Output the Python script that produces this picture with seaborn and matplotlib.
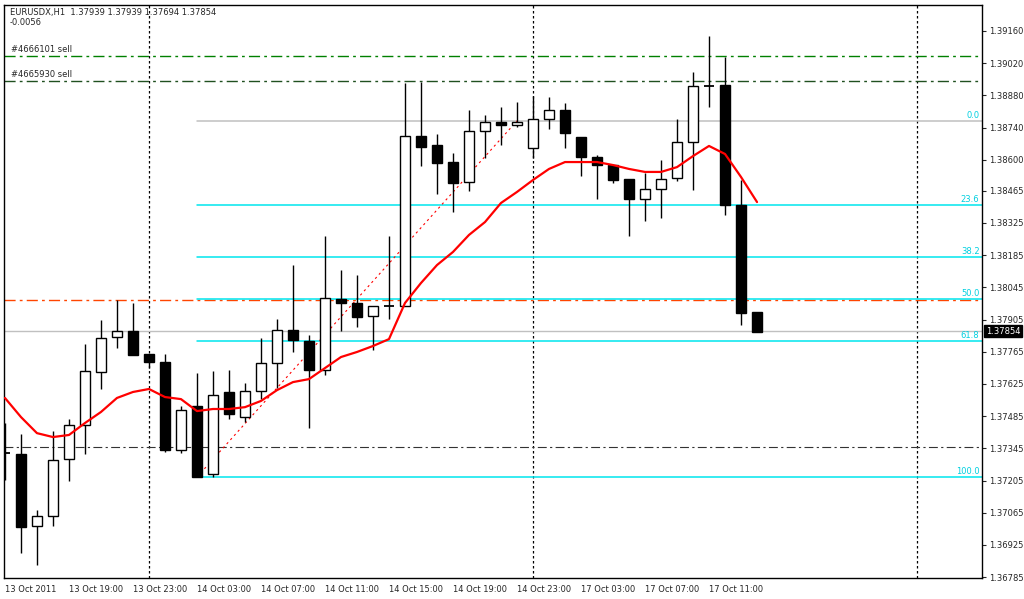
import matplotlib
matplotlib.use("Agg")
import matplotlib.pyplot as plt
import seaborn as sns
import numpy as np
import pandas as pd

opens = [1.37324,1.37320,1.37007,1.37050,1.37298,1.37446,1.37677,1.37829,1.37855,1.37755,
         1.37720,1.37337,1.37529,1.37233,1.37590,1.37481,1.37594,1.37716,1.37859,1.37812,
         1.37685,1.37995,1.37977,1.37920,1.37964,1.37964,1.38703,1.38664,1.38590,1.38503,
         1.38725,1.38764,1.38751,1.38651,1.38777,1.38816,1.38699,1.38612,1.38577,1.38516,
         1.38429,1.38473,1.38521,1.38677,1.38921,1.38925,1.38403,1.37938]
highs = [1.37455,1.37407,1.37076,1.37420,1.37472,1.37798,1.37903,1.37990,1.37977,1.37755,
         1.37755,1.37529,1.37672,1.37681,1.37685,1.37629,1.37825,1.37907,1.38142,1.37838,
         1.38268,1.38120,1.38099,1.37964,1.38268,1.38934,1.38938,1.38712,1.38629,1.38816,
         1.38795,1.38829,1.38851,1.38877,1.38873,1.38847,1.38699,1.38621,1.38577,1.38516,
         1.38542,1.38599,1.38777,1.38982,1.39138,1.39047,1.38512,1.37938]
lows = [1.37207,1.36889,1.36837,1.37007,1.37203,1.37320,1.37603,1.37781,1.37751,1.37694,
        1.37329,1.37324,1.37220,1.37220,1.37472,1.37459,1.37559,1.37607,1.37764,1.37433,
        1.37664,1.37855,1.37872,1.37772,1.37907,1.37964,1.38573,1.38451,1.38373,1.38464,
        1.38608,1.38664,1.38742,1.38608,1.38734,1.38651,1.38529,1.38429,1.38499,1.38268,
        1.38334,1.38347,1.38508,1.38468,1.38829,1.38360,1.37881,1.37851]
closes = [1.37324,1.37002,1.37050,1.37294,1.37446,1.37681,1.37825,1.37855,1.37751,1.37720,
          1.37337,1.37511,1.37220,1.37577,1.37494,1.37594,1.37716,1.37859,1.37816,1.37685,
          1.37999,1.37977,1.37916,1.37964,1.37964,1.38703,1.38655,1.38586,1.38499,1.38725,
          1.38764,1.38751,1.38764,1.38777,1.38816,1.38716,1.38612,1.38577,1.38512,1.38429,
          1.38473,1.38516,1.38677,1.38921,1.38921,1.38403,1.37933,1.37851]
ma = [1.37564,1.37481,1.37411,1.37394,1.37403,1.37455,1.37503,1.37564,1.37590,1.37603,
      1.37568,1.37559,1.37507,1.37516,1.37516,1.37524,1.37551,1.37598,1.37633,1.37646,
      1.37694,1.37742,1.37764,1.37790,1.37820,1.37977,1.38064,1.38142,1.38199,1.38273,
      1.38329,1.38412,1.38460,1.38512,1.38560,1.38590,1.38590,1.38590,1.38577,1.38560,
      1.38547,1.38547,1.38568,1.38616,1.38660,1.38625,1.38525,1.38416]
xlabels = ["13 Oct 2011","13 Oct 19:00","13 Oct 23:00","14 Oct 03:00","14 Oct 07:00",
           "14 Oct 11:00","14 Oct 15:00","14 Oct 19:00","14 Oct 23:00","17 Oct 03:00",
           "17 Oct 07:00","17 Oct 11:00"]
yticks = [1.39160,1.39020,1.38880,1.38740,1.38600,1.38465,1.38325,1.38185,1.38045,
          1.37905,1.37765,1.37625,1.37485,1.37345,1.37205,1.37065,1.36925,1.36785]
fib_high, fib_low = 1.38769, 1.37220
fib_levels = [0.0, 23.6, 38.2, 50.0, 61.8, 100.0]
order_lines = [("#4666101 sell", 1.39051), ("#4665930 sell", 1.38943)]
orange_line = 1.37990
dark_line = 1.37350
bid = 1.37854

sns.set_style("white")
fig = plt.figure(figsize=(10.24, 5.99), dpi=100)
ax = fig.add_axes([4/1024, 1-578/599, 978/1024, 573/599])
n = len(opens)
idx = np.arange(n)

for v in [9, 33, 57]:
    ax.axvline(v, color="black", ls=(0, (2, 2)), lw=0.9, zorder=1)
ax.axhline(orange_line, color="#ff4500", ls=(0, (8, 3, 2, 3)), lw=1, zorder=1)
ax.axhline(dark_line, color="#333333", ls=(0, (8, 3, 2, 3)), lw=0.8, zorder=1)
for name, v in order_lines:
    col = "#008000" if name.startswith("#4666101") else "#205020"
    ax.axhline(v, color=col, ls=(0, (8, 3, 2, 3)), lw=1, zorder=1)
    ax.text(0.4, v + 0.00008, name, fontsize=6, va="bottom", ha="left")
ax.axhline(bid, color="#c0c0c0", lw=1, zorder=1)

rng = fib_high - fib_low
for lv in fib_levels:
    y = fib_high - rng * lv / 100
    col = "#c0c0c0" if lv == 0 else "#00e5ee"
    ax.plot([12, 61.06], [y, y], color=col, lw=1.1, zorder=2)
    ax.text(60.9, y + 0.00006, f"{lv:.1f}", fontsize=6, color="#00d0e0", ha="right", va="bottom")
ax.plot([12, 32], [fib_low, fib_high], color="red", ls=(0, (2, 3)), lw=0.8, zorder=2)

w = 0.62
for i in range(n):
    o, h, l, c = opens[i], highs[i], lows[i], closes[i]
    ax.vlines(i, l, h, color="black", lw=1, zorder=3)
    lo, hi = min(o, c), max(o, c)
    if hi - lo < 0.00003:
        ax.hlines(o, i - w/2, i + w/2, color="black", lw=1.3, zorder=4)
    else:
        fc = "white" if c > o else "black"
        ax.bar(i, hi - lo, bottom=lo, width=w, color=fc, edgecolor="black", lw=1, zorder=4)

df = pd.DataFrame({"i": idx, "ma": ma})
sns.lineplot(data=df, x="i", y="ma", color="red", lw=1.6, ax=ax, zorder=5)

ax.set_xlim(-0.06, 61.06)
ax.set_ylim(1.36781, 1.39273)
ax.set_xticks(np.arange(0, n, 4))
ax.set_xticklabels(xlabels, fontsize=6, ha="left")
ax.yaxis.tick_right()
ax.set_yticks(yticks)
ax.set_yticklabels([f"{t:.5f}" for t in yticks], fontsize=6)
ax.tick_params(axis="both", length=3, direction="out", pad=2)
ax.set_xlabel(""); ax.set_ylabel("")
for s in ax.spines.values():
    s.set_color("black"); s.set_linewidth(1)
ax.text(1.004, bid, f"{bid:.5f}", fontsize=6, color="white", va="center", ha="left",
        transform=ax.get_yaxis_transform(),
        bbox=dict(boxstyle="square,pad=0.2", fc="black", ec="black"), clip_on=False, zorder=10)
ax.text(0.006, 0.995, "EURUSDX,H1  1.37939 1.37939 1.37694 1.37854\n-0.0056", transform=ax.transAxes,
        fontsize=6, va="top", ha="left")
fig.savefig("out.png", dpi=100, facecolor="white")
